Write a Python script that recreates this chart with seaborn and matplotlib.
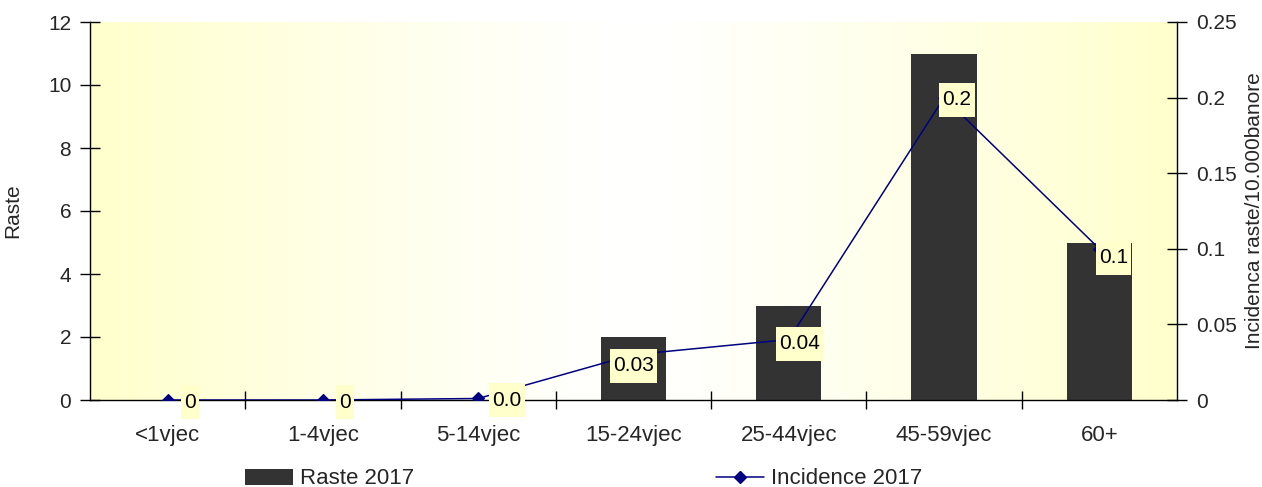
import numpy as np
import pandas as pd
import matplotlib
matplotlib.use("Agg")
import matplotlib.pyplot as plt
from matplotlib.path import Path
from matplotlib.patches import Patch
from matplotlib.lines import Line2D
import seaborn as sns

# Age groups and values
age_groups = ["<1vjec", "1-4vjec", "5-14vjec", "15-24vjec", "25-44vjec", "45-59vjec", "60+"]
cases_2017 = [0, 0, 0, 2, 3, 11, 5]
incidence_2017 = [0.0, 0.0, 0.001, 0.03, 0.04, 0.2, 0.1]
incidence_labels = ["0", "0", "0.0", "0.03", "0.04", "0.2", "0.1"]

# Label placement relative to each marker (pixels: right, down)
label_shift_px = [(22, 2), (22, 2), (29, 2), (0, 11), (11, 4), (13, 2), (14, 9)]

sns.set_style("ticks")
plt.rcParams["font.family"] = ["Liberation Sans", "DejaVu Sans"]

FS = 15
DPI = 100
fig = plt.figure(figsize=(12.62, 4.87), dpi=DPI)
ax = fig.add_axes([90 / 1262, 87 / 487, 1087 / 1262, 378 / 487])

df = pd.DataFrame({"age": age_groups, "cases": cases_2017, "inc": incidence_2017})

# Background: pale yellow at the edges fading to white in the middle
yellow = np.array([1.0, 1.0, 0.8])
white = np.array([1.0, 1.0, 1.0])
t = np.abs(np.linspace(-1, 1, 512)) ** 1.2
grad = white[None, :] * (1 - t[:, None]) + yellow[None, :] * t[:, None]
ax.imshow(grad[None, :, :], extent=[0, 1, 0, 1], transform=ax.transAxes,
          aspect="auto", zorder=0, interpolation="bilinear")

sns.barplot(data=df, x="age", y="cases", ax=ax, color="#333333",
            width=0.42, saturation=1, edgecolor="none", zorder=2)
for p in ax.patches:
    p.set_zorder(2)

ax2 = ax.twinx()
sns.pointplot(data=df, x="age", y="inc", ax=ax2, color="#000080",
              markers="D", markersize=6, linewidth=1.1, errorbar=None)


def tall_box(x0, y0, width, height, mutation_size):
    padx = 0.15 * mutation_size
    pady = 0.36 * mutation_size
    x0, y0 = x0 - padx, y0 - pady
    x1, y1 = x0 + width + 2 * padx, y0 + height + 2 * pady
    return Path([(x0, y0), (x1, y0), (x1, y1), (x0, y1), (x0, y0)], closed=True)


for i, (val, txt) in enumerate(zip(incidence_2017, incidence_labels)):
    dx, dy = label_shift_px[i]
    ax2.annotate(txt, xy=(i, val), xytext=(dx * 72 / DPI, -dy * 72 / DPI),
                 textcoords="offset points", ha="center", va="center",
                 fontsize=FS, color="black", zorder=5,
                 bbox=dict(boxstyle=tall_box, facecolor="#FFFFCC",
                           edgecolor="none"))

ax.set_xlim(-0.5, 6.5)
ax.set_ylim(0, 12)
ax.set_yticks(np.arange(0, 13, 2))
ax2.set_ylim(0, 0.25)
ax2.set_yticks([0, 0.05, 0.1, 0.15, 0.2, 0.25])
ax2.set_yticklabels(["0", "0.05", "0.1", "0.15", "0.2", "0.25"])

# Category labels centred, tick marks on the category boundaries
ax.set_xticks(range(len(age_groups)))
ax.set_xticklabels(age_groups)
ax.set_xticks(np.arange(0.5, 6, 1), minor=True)
ax.tick_params(axis="x", which="major", length=0, pad=18, labelsize=16)
ax.tick_params(axis="x", which="minor", direction="inout", length=13, width=1,
               color="black")
ax.tick_params(axis="y", direction="inout", length=15, width=1, pad=6,
               labelsize=FS, color="black")
ax2.tick_params(axis="y", direction="inout", length=15, width=1, pad=6,
                labelsize=FS, color="black")

ax.set_xlabel("")
ax.set_ylabel("Raste", fontsize=FS)
ax.yaxis.set_label_coords(-0.062, 0.5)
ax2.set_ylabel("Incidenca raste/10.000banore", fontsize=FS)
ax2.yaxis.set_label_coords(1.063, 0.5)
ax2.set_xlabel("")

for a in (ax, ax2):
    a.spines["top"].set_visible(False)
    for s in a.spines.values():
        s.set_color("black")
        s.set_linewidth(1)
ax.spines["right"].set_visible(False)
ax2.spines["left"].set_visible(False)
ax2.spines["bottom"].set_visible(False)

handles = [
    Patch(facecolor="#333333", edgecolor="none", label="Raste 2017"),
    Line2D([], [], color="#000080", marker="D", markersize=6, linewidth=1.1,
           label="Incidence 2017"),
]
fig.legend(handles=handles, loc="center left", bbox_to_anchor=(245 / 1262, 8 / 487),
           ncol=2, frameon=False, fontsize=16, handlelength=2.16,
           handletextpad=0.31, columnspacing=13.6, borderpad=0, borderaxespad=0)

fig.savefig("out.png", dpi=DPI)
